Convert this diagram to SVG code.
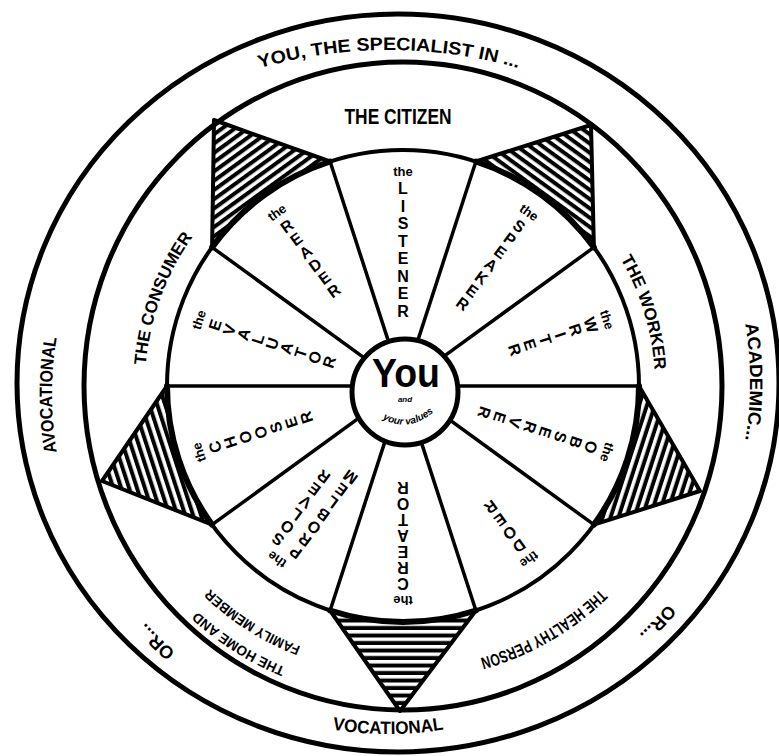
<svg xmlns="http://www.w3.org/2000/svg" width="779" height="756" viewBox="0 0 779 756">
<style>
.ln{fill:none;stroke:#000;stroke-linejoin:round;stroke-linecap:round}
.t{font-family:"Liberation Sans","DejaVu Sans",sans-serif;font-weight:bold;fill:#000}
.ring{font-size:17px}
.outer{font-size:18px}
.w{font-size:16px;text-anchor:middle}
.the{font-size:13px;text-anchor:middle}
.tri{stroke:#000;stroke-width:4;stroke-linejoin:round}
</style>
<defs>
<pattern id="h90" patternUnits="userSpaceOnUse" width="20" height="7.5" patternTransform="rotate(180)"><rect width="20" height="4" fill="#000"/></pattern>
<pattern id="h234" patternUnits="userSpaceOnUse" width="20" height="7.5" patternTransform="rotate(324)"><rect width="20" height="4" fill="#000"/></pattern>
<pattern id="h306" patternUnits="userSpaceOnUse" width="20" height="7.5" patternTransform="rotate(36)"><rect width="20" height="4" fill="#000"/></pattern>
<pattern id="h18" patternUnits="userSpaceOnUse" width="20" height="7.5" patternTransform="rotate(108)"><rect width="20" height="4" fill="#000"/></pattern>
<pattern id="h162" patternUnits="userSpaceOnUse" width="20" height="7.5" patternTransform="rotate(252)"><rect width="20" height="4" fill="#000"/></pattern>
<path id="pTop" d="M228.3,78.3 A470,470 0 0 1 549.7,78.3"/>
<path id="pAcad" d="M728.8,261.6 A352,352 0 0 1 728.8,502.4"/>
<path id="pVoc" d="M267.6,712.8 A352,352 0 0 0 508.4,712.8"/>
<path id="pAvoc" d="M73.2,515 A351,351 0 0 1 73.2,275"/>
<path id="pOrR" d="M700,557.5 A343,343 0 0 1 594.8,670.3"/>
<path id="pOrL" d="M222.7,686 A350,350 0 0 1 109.5,576.6"/>
<path id="pWork" d="M590.3,217.4 A252,252 0 0 1 652.5,421.1"/>
<path id="pHealth" d="M619.8,567.9 A283,283 0 0 1 452.1,664.7"/>
<path id="pHome1" d="M350,686.4 A305,305 0 0 1 153.1,560.9"/>
<path id="pHome2" d="M354.4,661.7 A280,280 0 0 1 173.6,546.6"/>
<path id="pCons" d="M146,408.5 A258,258 0 0 1 220.6,203.6"/>
<path id="pVal" d="M370,409 Q407,444 445,401"/>
</defs>
<rect width="779" height="756" fill="#fff"/>

<g id="rings">
<ellipse class="ln" cx="398" cy="383" rx="381" ry="369" stroke-width="5"/>
<ellipse class="ln" cx="403" cy="386" rx="319" ry="324" stroke-width="5"/>
<circle class="ln" cx="403" cy="386" r="236" stroke-width="4"/>
</g>

<g id="connectors" class="ln" stroke-width="3.5">
<line x1="453" y1="386" x2="639" y2="386"/>
<line x1="443.5" y1="415.4" x2="593.9" y2="524.7"/>
<line x1="418.5" y1="433.6" x2="475.9" y2="610.5"/>
<line x1="387.5" y1="433.6" x2="330.1" y2="610.5"/>
<line x1="362.5" y1="415.4" x2="212.1" y2="524.7"/>
<line x1="353" y1="386" x2="167" y2="386"/>
<line x1="362.5" y1="356.6" x2="212.1" y2="247.3"/>
<line x1="387.5" y1="338.4" x2="330.1" y2="161.5"/>
<line x1="418.5" y1="338.4" x2="475.9" y2="161.5"/>
<line x1="443.5" y1="356.6" x2="593.9" y2="247.3"/>
</g>

<g id="triangles">
<g id="tri-topleft">
<path class="tri" fill="url(#h234)" d="M214,120 L212.1,247.3 A236,236 0 0 1 330.1,161.5 Z"/>
<path class="ln" stroke-width="6" d="M212.1,247.3 A236,236 0 0 1 330.1,161.5"/>
</g>
<g id="tri-topright">
<path class="tri" fill="url(#h306)" d="M591,125 L475.9,161.5 A236,236 0 0 1 593.9,247.3 Z"/>
<path class="ln" stroke-width="6" d="M475.9,161.5 A236,236 0 0 1 593.9,247.3"/>
</g>
<g id="tri-right">
<path class="tri" fill="url(#h18)" d="M700,491 L639,386 A236,236 0 0 1 593.9,524.7 Z"/>
<path class="ln" stroke-width="6" d="M639,386 A236,236 0 0 1 593.9,524.7"/>
</g>
<g id="tri-bottom">
<path class="tri" fill="url(#h90)" d="M400,711 L475.9,610.5 A236,236 0 0 1 330.1,610.5 Z"/>
<path class="ln" stroke-width="6" d="M475.9,610.5 A236,236 0 0 1 330.1,610.5"/>
</g>
<g id="tri-left">
<path class="tri" fill="url(#h162)" d="M102,481 L212.1,524.7 A236,236 0 0 1 167,386 Z"/>
<path class="ln" stroke-width="6" d="M212.1,524.7 A236,236 0 0 1 167,386"/>
</g>
</g>

<g id="outer-labels" class="t outer">
<text id="lbl-specialist"><textPath href="#pTop" startOffset="50%" text-anchor="middle" textLength="262" lengthAdjust="spacingAndGlyphs">YOU, THE SPECIALIST IN ...</textPath></text>
<text id="lbl-academic"><textPath href="#pAcad" startOffset="50%" text-anchor="middle" textLength="117" lengthAdjust="spacingAndGlyphs">ACADEMIC...</textPath></text>
<text id="lbl-vocational"><textPath href="#pVoc" startOffset="50%" text-anchor="middle" textLength="112" lengthAdjust="spacingAndGlyphs">VOCATIONAL</textPath></text>
<text id="lbl-avocational"><textPath href="#pAvoc" startOffset="50%" text-anchor="middle" textLength="115" lengthAdjust="spacingAndGlyphs">AVOCATIONAL</textPath></text>
<text id="lbl-or-right"><textPath href="#pOrR" startOffset="50%" text-anchor="middle">OR...</textPath></text>
<text id="lbl-or-left"><textPath href="#pOrL" startOffset="50%" text-anchor="middle">OR...</textPath></text>
</g>

<g id="ring-labels" class="t ring">
<text id="lbl-citizen" x="398" y="124" font-size="22" text-anchor="middle" textLength="107" lengthAdjust="spacingAndGlyphs">THE CITIZEN</text>
<text id="lbl-worker"><textPath href="#pWork" startOffset="50%" text-anchor="middle" textLength="117" lengthAdjust="spacingAndGlyphs">THE WORKER</textPath></text>
<text id="lbl-healthy"><textPath href="#pHealth" startOffset="50%" text-anchor="middle" textLength="140" lengthAdjust="spacingAndGlyphs">THE HEALTHY PERSON</textPath></text>
<text id="lbl-home" font-size="14"><textPath href="#pHome1" startOffset="50%" text-anchor="middle" textLength="105" lengthAdjust="spacingAndGlyphs">THE HOME AND</textPath><textPath href="#pHome2" startOffset="50%" text-anchor="middle" textLength="108" lengthAdjust="spacingAndGlyphs">FAMILY MEMBER</textPath></text>
<text id="lbl-consumer"><textPath href="#pCons" startOffset="50%" text-anchor="middle" textLength="138" lengthAdjust="spacingAndGlyphs">THE CONSUMER</textPath></text>
</g>

<g id="sector-labels" class="t">
<g id="sec-listener">
<text class="the" x="403" y="176">the</text>
<text class="w" x="403 403 403 403 403 403 403 403" y="194 211.5 229 246.5 264 281.5 299 316.5">LISTENER</text>
</g>
<g id="sec-speaker" transform="rotate(36 403 386)">
<text class="the" x="403" y="176">the</text>
<text class="w" x="403 403 403 403 403 403 403" y="194 210 226 242 258 274 290">SPEAKER</text>
</g>
<g id="sec-writer" transform="rotate(72 403 386)">
<text class="the" x="403" y="176">the</text>
<text class="w" x="403 403 403 403 403 403" y="194 210 226 242 258 274">WRITER</text>
</g>
<g id="sec-observer" transform="rotate(108 403 386)">
<text class="the" x="403" y="176">the</text>
<text class="w" x="403 403 403 403 403 403 403 403" y="194 210 226 242 258 274 290 306">OBSERVER</text>
</g>
<g id="sec-doer" transform="rotate(144 403 386)">
<text class="the" x="403" y="176">the</text>
<text class="w" x="403 403 403 403" y="194 210 226 242">DOER</text>
</g>
<g id="sec-creator" transform="rotate(180 403 386)">
<text class="the" x="403" y="176">the</text>
<text class="w" x="403 403 403 403 403 403 403" y="194 210 226 242 258 274 290">CREATOR</text>
</g>
<g id="sec-problem" transform="rotate(216 403 386)">
<text class="the" x="403" y="176">the</text>
<text class="w" x="392 392 392 392 392 392 392" y="194 209.5 225 240.5 256 271.5 287">PROBLEM</text>
<text class="w" x="414 414 414 414 414 414" y="194 209.5 225 240.5 256 271.5">SOLVER</text>
</g>
<g id="sec-chooser" transform="rotate(252 403 386)">
<text class="the" x="403" y="176">the</text>
<text class="w" x="403 403 403 403 403 403 403" y="194 210 226 242 258 274 290">CHOOSER</text>
</g>
<g id="sec-evaluator" transform="rotate(288 403 386)">
<text class="the" x="403" y="176">the</text>
<text class="w" x="403 403 403 403 403 403 403 403 403" y="194 209 224 239 254 269 284 299 314">EVALUATOR</text>
</g>
<g id="sec-reader" transform="rotate(324 403 386)">
<text class="the" x="403" y="176">the</text>
<text class="w" x="403 403 403 403 403 403" y="194 210 226 242 258 274">READER</text>
</g>
</g>

<g id="center-you">
<circle cx="405" cy="392" r="53" fill="#fff" stroke="#000" stroke-width="5"/>
<text class="t" x="406" y="387" font-size="40" text-anchor="middle" textLength="68" lengthAdjust="spacingAndGlyphs">You</text>
<text class="t" x="405" y="402" font-size="8" font-style="italic" text-anchor="middle">and</text>
<text class="t" font-size="10" font-style="italic"><textPath href="#pVal" startOffset="50%" text-anchor="middle">your values</textPath></text>
</g>
</svg>
